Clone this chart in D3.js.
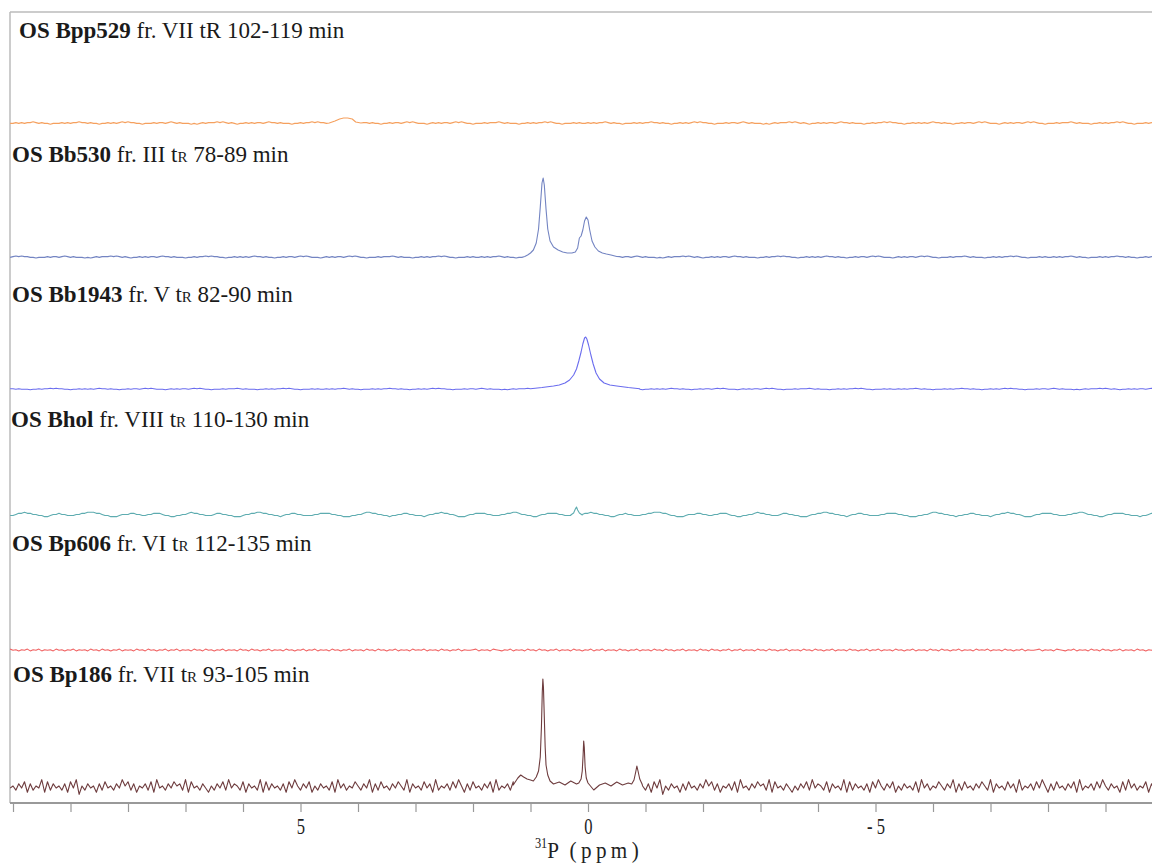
<!DOCTYPE html>
<html>
<head>
<meta charset="utf-8">
<script src="https://cdn.jsdelivr.net/npm/d3@7"></script>
<style>
  body { margin: 0; background: #fff; }
  svg { display: block; font-family: "Liberation Serif", "Times New Roman", serif; }
</style>
</head>
<body>
<div class="chart"></div>
<script>
// Step 0: data
//= ================================
var sampleNames = ["OS Bpp529", "OS Bb530", "OS Bb1943", "OS Bhol", "OS Bp606", "OS Bp186"];
var fractions = [" fr. VII t", " fr. III t", " fr. V t", " fr. VIII t", " fr. VI t", " fr. VII t"];
var retention = [" 102-119 min", " 78-89 min", " 82-90 min", " 110-130 min", " 112-135 min", " 93-105 min"];
var smallR = [false, true, true, true, true, true];

// peak shapes [ppm, height above baseline]
var peaks529 = [[4.5, 0], [4.4, 2], [4.32, 4], [4.25, 5], [4.18, 5], [4.1, 4], [4.04, 1], [3.95, 0]];
var peaks530 = [[1.1, 0.5], [1.05, 2], [1.0, 4], [0.95, 7], [0.9, 14], [0.86, 28], [0.83, 50], [0.80, 74],
  [0.78, 79], [0.76, 72], [0.73, 48], [0.70, 28], [0.66, 16], [0.60, 10], [0.52, 7], [0.44, 5],
  [0.36, 4], [0.28, 4], [0.22, 5], [0.18, 9], [0.15, 19], [0.12, 21], [0.09, 27], [0.06, 36],
  [0.03, 40], [0.0, 37], [-0.03, 27], [-0.07, 16], [-0.12, 10], [-0.18, 6], [-0.25, 4],
  [-0.32, 3], [-0.4, 2], [-0.5, 0.5]];
var peaks1943 = [[1.0, 0.3], [0.8, 1.5], [0.6, 3], [0.5, 4], [0.4, 6], [0.32, 9], [0.25, 14], [0.2, 20],
  [0.16, 28], [0.12, 37], [0.09, 45], [0.06, 51], [0.04, 52], [0.02, 50], [-0.01, 44], [-0.05, 34],
  [-0.09, 25], [-0.14, 16], [-0.2, 10], [-0.28, 6], [-0.38, 4], [-0.5, 3], [-0.7, 1.5], [-0.9, 0.3]];
var peaksHol = [[0.3, 0], [0.25, 2], [0.22, 6], [0.2, 8], [0.18, 5], [0.15, 2], [0.1, 0]];
var peaks606 = [];
var peaks186 = [[1.3, 2], [1.22, 9], [1.17, 12], [1.12, 10], [1.06, 8], [1.0, 7], [0.95, 6], [0.9, 10],
  [0.86, 16], [0.83, 30], [0.81, 60], [0.795, 95], [0.785, 108], [0.775, 100], [0.76, 70],
  [0.745, 40], [0.73, 22], [0.7, 12], [0.66, 6], [0.6, 3], [0.5, 5], [0.4, 2], [0.3, 6],
  [0.2, 3], [0.16, 4], [0.12, 8], [0.1, 16], [0.085, 32], [0.075, 46], [0.065, 40], [0.05, 20],
  [0.03, 9], [0.0, 4], [-0.1, -3], [-0.2, 2], [-0.3, 4], [-0.4, 1], [-0.5, 5], [-0.6, 2],
  [-0.7, 4], [-0.76, 3], [-0.8, 7], [-0.83, 15], [-0.85, 21], [-0.87, 16], [-0.9, 8], [-0.94, 3]];

// baseline noise, one digit per 0.05 ppm (4.5 = flat)
var noiseSmooth = "4454545565454434445454556554544344545456565544344454554565454443434545556565454344545455456554544434454556565544344545454565545443445455456565444345454554565654434445455565454443445454556565443444545";
var noiseWavy = "45566665544434456676655443345565544455667776654433345556655445566654433445567665544456655443334556677665544345566554444556666554433344556776655443445566554443455667665543334556666554445566776554433";
var noiseJitter = "4546354536453546354456354536543546354536453645354635453645354635463545364535463545364536453546354536453645354635463545364536453546354536453645354635453645354635463545364535463545364536453546354536";
var noiseRough = "45364726354827364536274815364526374536485736254637284536475638274536425364738465372645382736453627485364725364537284635475364826374536475382645374628354637485263745364728354637485364527384635472635482736";

var tracePeaks = [peaks529, peaks530, peaks1943, peaksHol, peaks606, peaks186];
var traceNoise = [noiseSmooth, noiseSmooth, noiseSmooth, noiseWavy, noiseJitter, noiseRough];
var noiseGain = [0.8, 0.7, 0.45, 1.1, 0.6, 2.1];
var noiseStart = [0, 37, 91, 13, 55, 0];

// layout
var traceBase = [123, 257, 389, 515, 650, 787];
var labelBase = [38, 162, 302, 427, 551, 682];
var labelLeft = [19, 12, 12, 11, 12, 13];
var colors = ["#f5a05e", "#7384c2", "#6a6cee", "#5eacb0", "#f06262", "#6e3c3e"];

var svgWidth = 1152;
var svgHeight = 866;

var svg = d3.select(".chart").append("svg")
  .attr("width", svgWidth)
  .attr("height", svgHeight);

svg.append("rect").attr("width", svgWidth).attr("height", svgHeight).attr("fill", "#fff");

var x = d3.scaleLinear().domain([10, -10]).range([13, 1163]);

// frame
svg.append("line").attr("x1", 10).attr("x2", svgWidth).attr("y1", 12).attr("y2", 12)
  .attr("stroke", "#bbb").attr("stroke-width", 1.5);
svg.append("line").attr("x1", 10).attr("x2", 10).attr("y1", 12).attr("y2", 803)
  .attr("stroke", "#bbb").attr("stroke-width", 1.5);

svg.append("clipPath").attr("id", "plot")
  .append("rect").attr("x", 10).attr("y", 12).attr("width", svgWidth - 10).attr("height", 790);

var grid = d3.range(0, 402).map(function(i) { return 10.05 - i * 0.05; });

function buildSeries(k) {
  var peaks = tracePeaks[k];
  var lo = peaks.length ? d3.min(peaks, function(p) { return p[0]; }) : 99;
  var hi = peaks.length ? d3.max(peaks, function(p) { return p[0]; }) : 99;
  var noise = traceNoise[k];
  var pts = [];
  grid.forEach(function(ppm, i) {
    if (ppm >= lo && ppm <= hi) return;
    var d = +noise[(i + noiseStart[k]) % noise.length];
    pts.push([ppm, (d - 4.5) * noiseGain[k]]);
  });
  peaks.forEach(function(p) { pts.push(p); });
  pts.sort(function(a, b) { return b[0] - a[0]; });
  return pts;
}

var traces = svg.append("g").attr("clip-path", "url(#plot)");

sampleNames.forEach(function(name, k) {
  var y = d3.scaleLinear().domain([0, 100]).range([traceBase[k], traceBase[k] - 100]);
  var line = d3.line()
    .x(function(d) { return x(d[0]); })
    .y(function(d) { return y(d[1]); });

  traces.append("path")
    .datum(buildSeries(k))
    .attr("d", line)
    .attr("fill", "none")
    .attr("stroke", colors[k])
    .attr("stroke-width", 1.1)
    .attr("stroke-linejoin", "round");

  var label = svg.append("text")
    .attr("x", labelLeft[k])
    .attr("y", labelBase[k])
    .attr("font-family", "'Liberation Serif', serif")
    .attr("font-size", 23)
    .attr("fill", "#1a1a1a");
  label.append("tspan").attr("font-weight", "bold").text(name);
  label.append("tspan").text(fractions[k]);
  label.append("tspan").attr("font-size", smallR[k] ? 15 : 23).text("R");
  label.append("tspan").text(retention[k]);
});

// x axis
var axisY = 803;
var bottomAxis = d3.axisBottom(x)
  .tickValues(d3.range(10, -10.5, -1))
  .tickSize(9)
  .tickSizeOuter(0)
  .tickFormat(function(d) {
    if (d === 5) return "5";
    if (d === 0) return "0";
    if (d === -5) return "- 5";
    return "";
  });

var axisG = svg.append("g")
  .attr("transform", "translate(0," + axisY + ")")
  .call(bottomAxis);

axisG.select(".domain").remove();
axisG.append("line").attr("x1", 10).attr("x2", svgWidth).attr("y1", 0).attr("y2", 0)
  .attr("stroke", "#999").attr("stroke-width", 2);
axisG.selectAll(".tick line").attr("stroke", "#999").attr("stroke-width", 1.2);
axisG.selectAll(".tick text")
  .attr("font-family", "'Liberation Serif', serif")
  .attr("font-size", 23)
  .attr("fill", "#222")
  .attr("y", 0)
  .attr("dy", 0)
  .attr("transform", "translate(0,31) scale(0.72,1)");

// axis title
var title = svg.append("text")
  .attr("transform", "translate(589,858) scale(0.88,1)")
  .attr("text-anchor", "middle")
  .attr("font-family", "'Liberation Serif', serif")
  .attr("font-size", 24)
  .attr("fill", "#222");
title.append("tspan").attr("font-size", 14).attr("dy", -10).text("31");
title.append("tspan").attr("dy", 10).text("P\u00a0\u00a0");
title.append("tspan").attr("letter-spacing", 5).text("(ppm)");
</script>
</body>
</html>
